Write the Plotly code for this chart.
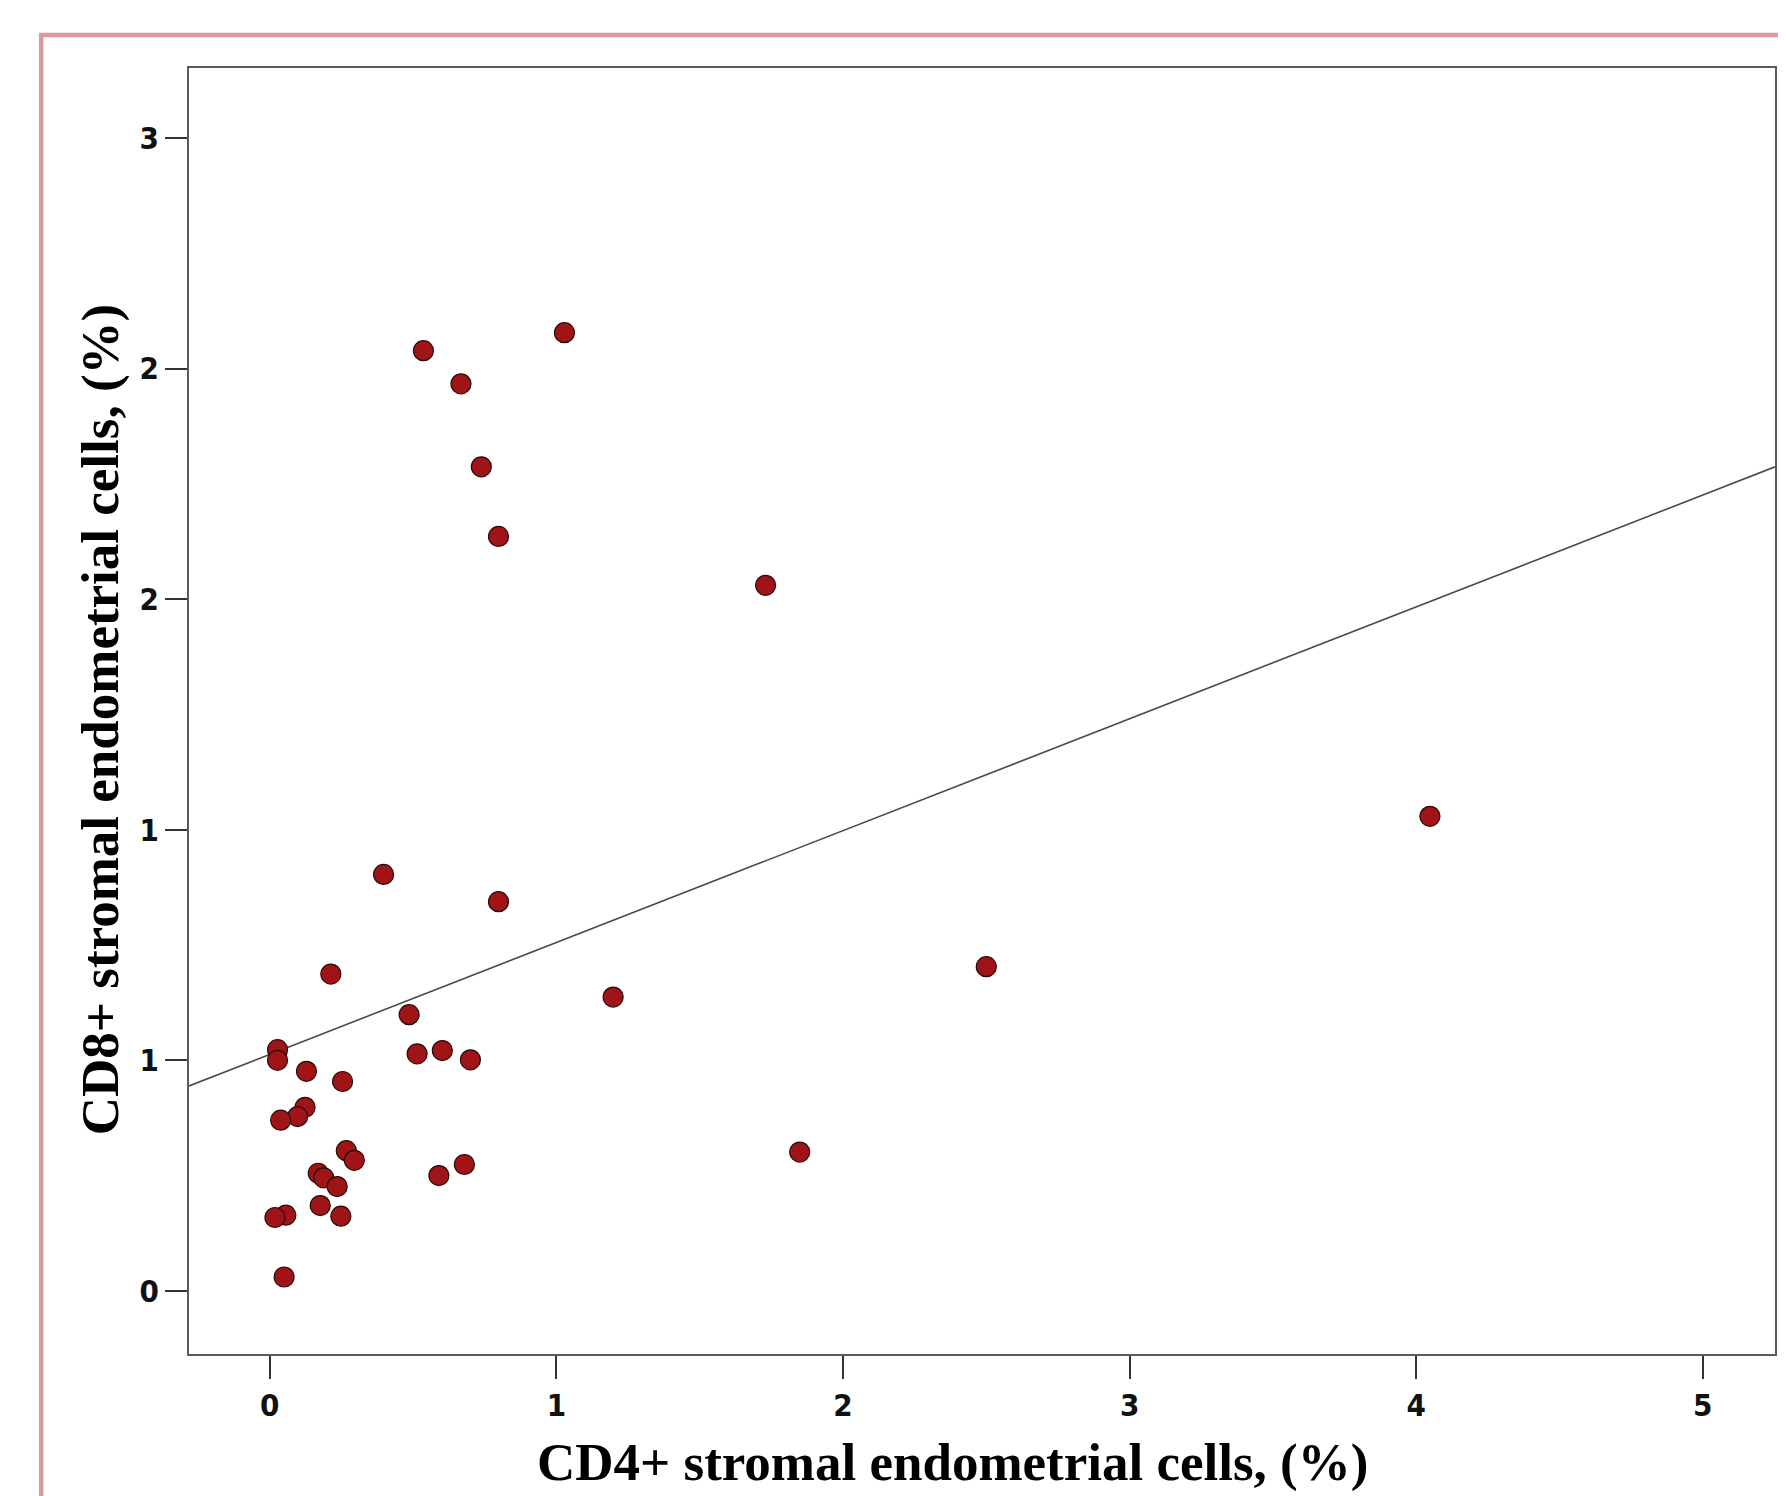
import numpy as np
import plotly.graph_objects as go

# CD4+ (x) and CD8+ (y) stromal endometrial cells, %
cd4 = [1.028, 0.536, 0.667, 0.738, 0.798, 1.730, 4.048, 0.397, 0.798, 0.213,
       2.500, 1.198, 0.486, 0.514, 0.602, 0.700, 0.027, 0.027, 0.128, 0.254,
       0.123, 0.097, 0.038, 1.849, 0.267, 0.295, 0.169, 0.188, 0.235, 0.679,
       0.590, 0.176, 0.056, 0.018, 0.248, 0.050]
cd8 = [2.078, 2.039, 1.967, 1.787, 1.636, 1.530, 1.029, 0.903, 0.844, 0.687,
       0.703, 0.637, 0.599, 0.514, 0.521, 0.501, 0.523, 0.500, 0.476, 0.454,
       0.398, 0.378, 0.370, 0.301, 0.304, 0.283, 0.255, 0.245, 0.226, 0.274,
       0.250, 0.185, 0.164, 0.159, 0.162, 0.030]

x_ticks = [0, 1, 2, 3, 4, 5]
x_ticklabels = ["0", "1", "2", "3", "4", "5"]
y_ticks = [0, 0.5, 1.0, 1.5, 2.0, 2.5]
y_ticklabels = ["0", "1", "1", "2", "2", "3"]

x_range = [-0.282, 5.252]
y_range = [-0.137, 2.652]

slope, intercept = np.polyfit(cd4, cd8, 1)
fit_x = np.array(x_range)
fit_y = intercept + slope * fit_x

fig = go.Figure()
fig.add_trace(go.Scatter(
    x=fit_x, y=fit_y, mode="lines",
    line=dict(color="#4a4a4a", width=1.6),
    hoverinfo="skip", showlegend=False))
fig.add_trace(go.Scatter(
    x=cd4, y=cd8, mode="markers",
    marker=dict(size=20, color="#a01418", line=dict(color="#2a0a0a", width=1.2)),
    showlegend=False))

tick_font = dict(family="DejaVu Sans Condensed, Liberation Sans Narrow, Arial Narrow, sans-serif",
                 size=31, color="#111111", weight="bold")
title_font = dict(family="Liberation Serif, Times New Roman, serif", size=53, color="#000000")

fig.update_layout(
    width=1770, height=1488,
    paper_bgcolor="white", plot_bgcolor="white",
    margin=dict(l=181, r=1, t=60, b=142),
    xaxis=dict(range=x_range, tickmode="array", tickvals=x_ticks, ticktext=x_ticklabels,
               ticks="outside", ticklen=23, tickwidth=1.6, tickcolor="#333333",
               showline=True, mirror=True, linecolor="#5a5a5a", linewidth=2,
               showgrid=False, zeroline=False, tickfont=tick_font),
    yaxis=dict(range=y_range, tickmode="array", tickvals=y_ticks, ticktext=y_ticklabels,
               ticks="outside", ticklen=22, tickwidth=1.6, tickcolor="#333333",
               showline=True, mirror=True, linecolor="#5a5a5a", linewidth=2,
               showgrid=False, zeroline=False, tickfont=tick_font),
    annotations=[
        dict(text="<b>CD4+ stromal endometrial cells, (%)</b>", xref="paper", yref="paper",
             x=0.4817, y=-0.084, showarrow=False, xanchor="center", yanchor="middle",
             font=title_font),
        dict(text="<b>CD8+ stromal endometrial cells, (%)</b>", xref="paper", yref="paper",
             x=-0.056, y=0.493, showarrow=False, xanchor="center", yanchor="middle",
             textangle=-90, font=title_font),
    ],
    shapes=[
        dict(type="path", xref="paper", yref="paper",
             path="M -0.0932,-0.2 L -0.0932,1.0257 L 1.05,1.0257",
             line=dict(color="#dc9a9a", width=4.5)),
    ],
)

fig.write_html("out.html")
